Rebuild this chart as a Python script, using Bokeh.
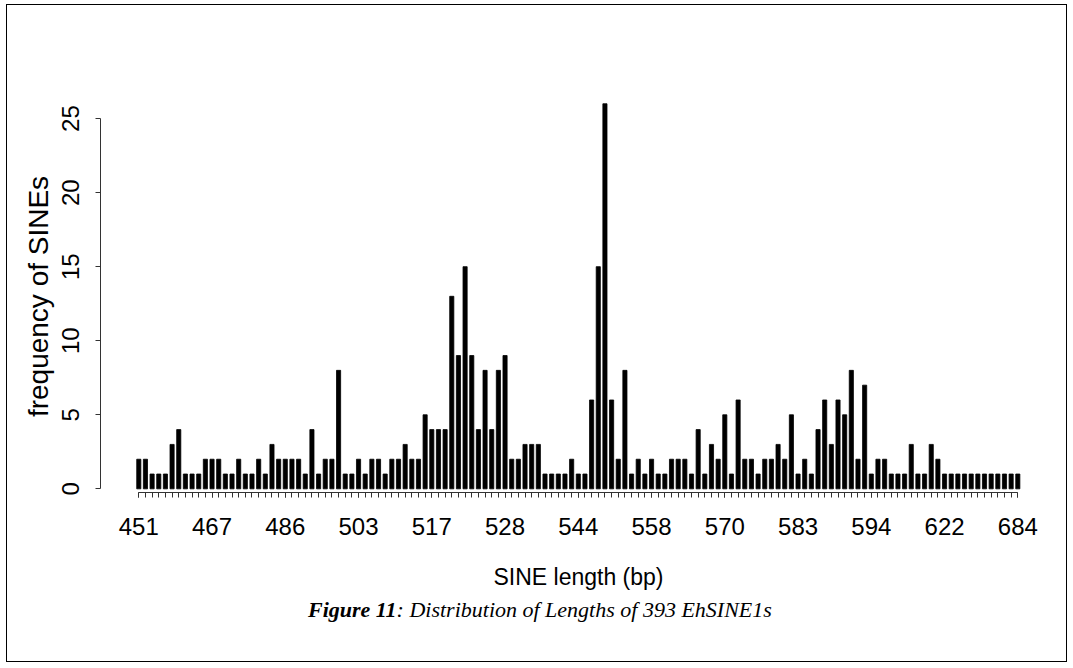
from bokeh.plotting import figure
from bokeh.layouts import column
from bokeh.models import Range1d, LinearAxis, FixedTicker
from bokeh.core.properties import value
from bokeh.embed import file_html
from bokeh.resources import INLINE

# frequency of each distinct SINE length (133 distinct lengths, 393 SINEs)
counts = [2, 2, 1, 1, 1, 3, 4, 1, 1, 1, 2, 2, 2, 1, 1, 2, 1, 1, 2, 1, 3, 2, 2, 2, 2, 1, 4, 1, 2, 2, 8, 1,
          1, 2, 1, 2, 2, 1, 2, 2, 3, 2, 2, 5, 4, 4, 4, 13, 9, 15, 9, 4, 8, 4, 8, 9, 2, 2, 3, 3, 3, 1, 1, 1, 1,
          2, 1, 1, 6, 15, 26, 6, 2, 8, 1, 2, 1, 2, 1, 1, 2, 2, 2, 1, 4, 1, 3, 2, 5, 1, 6, 2, 2, 1, 2, 2, 3, 2, 5,
          1, 2, 1, 4, 6, 3, 6, 5, 8, 2, 7, 1, 2, 2, 1, 1, 1, 3, 1, 1, 3, 2, 1, 1, 1, 1, 1, 1, 1, 1, 1, 1, 1, 1]
bar_numbers = list(range(1, len(counts) + 1))

# the lengths that are printed under the axis (every 11th bar)
shown_lengths = [451, 467, 486, 503, 517, 528, 544, 558, 570, 583, 594, 622, 684]
shown_bars = bar_numbers[::11]

y_ticks = [0, 5, 10, 15, 20, 25]

x_title = "SINE length (bp)"
y_title = "frequency of SINEs"
caption_bold = "Figure 11"
caption_rest = ": Distribution of Lengths of 393 EhSINE1s"

W = 1059
H_MAIN = 587
H_CAP = 69

p = figure(width=W, height=H_MAIN, output_backend="svg", toolbar_location=None,
           x_range=Range1d(-4.75, 138.81), y_range=Range1d(-0.247, 26.22),
           x_axis_type=None, y_axis_type=None,
           min_border_left=93, min_border_right=10, min_border_top=95, min_border_bottom=95)
p.outline_line_color = None
p.background_fill_color = "white"
p.border_fill_color = "white"

p.vbar(x=bar_numbers, top=counts, bottom=0, width=0.62,
       fill_color="black", line_color="black", line_width=0.8)

xaxis = LinearAxis(ticker=FixedTicker(ticks=shown_bars, minor_ticks=bar_numbers),
                   bounds=(1, len(counts)),
                   major_label_overrides={b: str(l) for b, l in zip(shown_bars, shown_lengths)},
                   axis_label=x_title)
xaxis.axis_line_color = "#333333"
xaxis.major_tick_line_color = "#333333"
xaxis.minor_tick_line_color = "#333333"
xaxis.major_tick_in = 0
xaxis.major_tick_out = 5
xaxis.minor_tick_in = 0
xaxis.minor_tick_out = 5
xaxis.major_label_standoff = 20
xaxis.major_label_text_font = "Liberation Sans"
xaxis.major_label_text_font_size = "24px"
xaxis.major_label_text_color = "black"
xaxis.axis_label_text_font = "Liberation Sans"
xaxis.axis_label_text_font_size = "23px"
xaxis.axis_label_text_font_style = "normal"
xaxis.axis_label_text_color = "black"
xaxis.axis_label_standoff = 26
p.add_layout(xaxis, "below")

yaxis = LinearAxis(ticker=FixedTicker(ticks=y_ticks), bounds=(0, 25), axis_label=y_title)
yaxis.axis_line_color = "#333333"
yaxis.major_tick_line_color = "#333333"
yaxis.major_tick_in = 0
yaxis.major_tick_out = 5
yaxis.minor_tick_line_color = None
yaxis.major_label_orientation = "vertical"
yaxis.major_label_standoff = 16
yaxis.major_label_text_font = "Liberation Sans"
yaxis.major_label_text_font_size = "24px"
yaxis.major_label_text_color = "black"
yaxis.axis_label_text_font = "Liberation Sans"
yaxis.axis_label_text_font_size = "28px"
yaxis.axis_label_text_font_style = "normal"
yaxis.axis_label_text_color = "black"
yaxis.axis_label_standoff = 6
p.add_layout(yaxis, "left")

# caption strip below the chart
cap = figure(width=W, height=H_CAP, output_backend="svg", toolbar_location=None,
             x_range=Range1d(0, W), y_range=Range1d(0, H_CAP),
             x_axis_type=None, y_axis_type=None, min_border=0,
             min_border_left=0, min_border_right=0, min_border_top=0, min_border_bottom=0)
cap.outline_line_color = None
cap.background_fill_color = "white"
cap.border_fill_color = "white"
split_x = 328
cap.text(x=[split_x], y=[H_CAP - 17], text=[caption_bold], text_align="right", text_baseline="middle",
         text_font=value("Liberation Serif"), text_font_style="bold italic",
         text_font_size="22px", text_color="black")
cap.text(x=[split_x], y=[H_CAP - 17], text=[caption_rest], text_align="left", text_baseline="middle",
         text_font=value("Liberation Serif"), text_font_style="italic",
         text_font_size="22px", text_color="black")

page = column(p, cap, spacing=0, margin=(5, 0, 0, 7),
              styles={"outline": "1px solid black", "outline-offset": "0px"})

open("out.html", "w").write(file_html(page, INLINE))
